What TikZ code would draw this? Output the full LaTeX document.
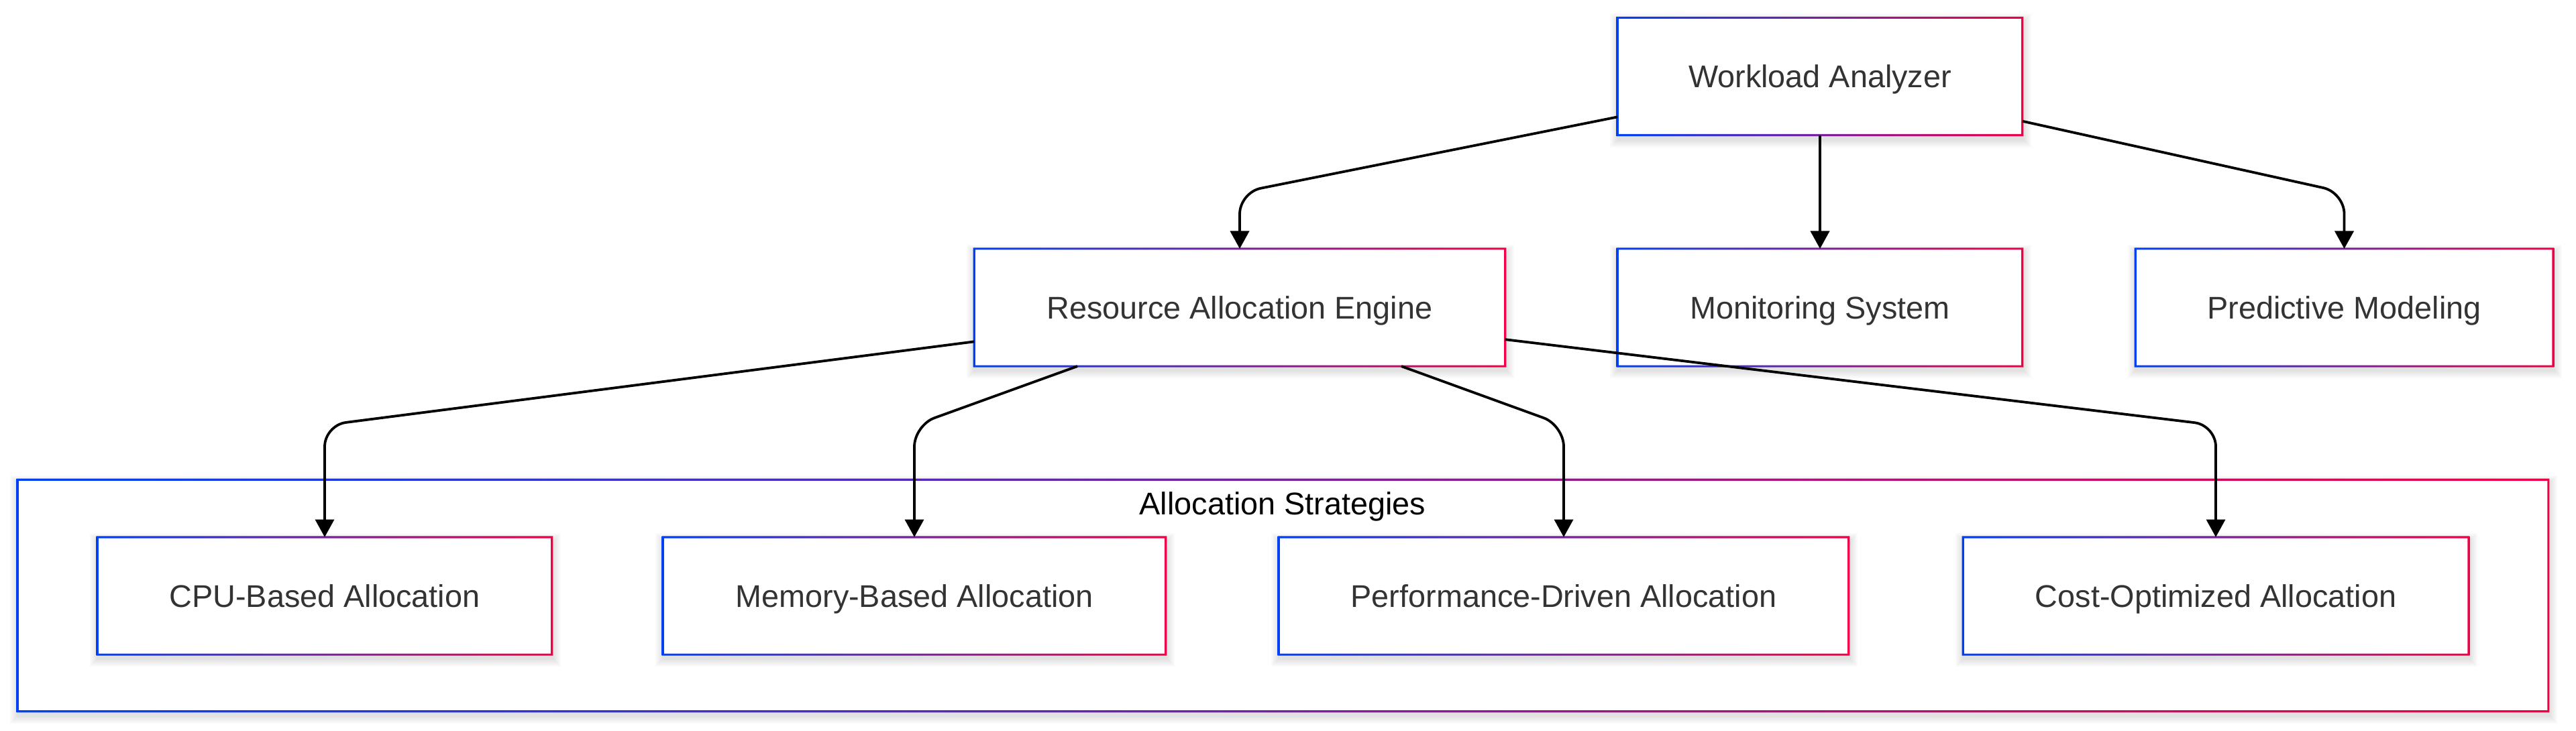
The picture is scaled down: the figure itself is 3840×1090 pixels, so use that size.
\documentclass[tikz,border=0pt]{standalone}
\usepackage{fontspec}
\setmainfont{Liberation Sans}
\usetikzlibrary{arrows.meta}
\definecolor{gblue}{RGB}{0,64,245}
\definecolor{gred}{RGB}{240,0,70}
\definecolor{txt}{RGB}{51,51,51}
\pgfdeclarelayer{cshadow}\pgfdeclarelayer{cfill}\pgfdeclarelayer{nshadow}
\pgfsetlayers{cshadow,cfill,nshadow,main}
\newcommand\gborder[1]{%
  \shade[left color=gblue,right color=gred,even odd rule]
    ([shift={(-0.4pt,-0.4pt)}]#1.south west) rectangle ([shift={(0.4pt,0.4pt)}]#1.north east)
    ([shift={(0.4pt,0.4pt)}]#1.south west) rectangle ([shift={(-0.4pt,-0.4pt)}]#1.north east);}
\newcommand\gshadow[2]{%
  \begin{pgfonlayer}{#2}
  \foreach \k in {1,...,6}{%
    \fill[black,opacity=0.02]
      ([shift={(-\k*0.5pt+0.3pt,-\k*0.5pt-1.5pt)}]#1.south west) rectangle
      ([shift={(\k*0.5pt+0.3pt,\k*0.5pt-1.5pt)}]#1.north east);}
  \end{pgfonlayer}}
\tikzset{
  box/.style={fill=white,inner sep=0pt,minimum height=43.4pt,text=txt,
    text height=8.4pt,text depth=0pt,
    font=\fontsize{11.7pt}{14pt}\selectfont},
  conn/.style={draw=black,line width=0.95pt,rounded corners=8pt,
    -{Triangle[length=6.6pt,width=7pt]}},
}
\begin{document}
\begin{tikzpicture}[x=0.25pt,y=-0.25pt]
\begin{pgfonlayer}{cshadow}
\fill[white] (0,0) rectangle (3840,1090);
\end{pgfonlayer}
\useasboundingbox (0,0) rectangle (3840,1090);

% container
\node[inner sep=0pt,minimum width=942.75pt,minimum height=86pt] (cont) at (1912.5,888) {};
\begin{pgfonlayer}{cfill}
\fill[white] (cont.south west) rectangle (cont.north east);
\end{pgfonlayer}
\gshadow{cont}{cshadow}
\gborder{cont}
\node[anchor=base,text=black,font=\fontsize{11.7pt}{14pt}\selectfont] (lbl) at (1912,767) {Allocation Strategies};

% nodes
\node[box,minimum width=150.5pt] (wa) at (2713,114) {Workload Analyzer};
\node[box,minimum width=197.5pt] (rae) at (1848,458.5) {Resource Allocation Engine};
\node[box,minimum width=150.5pt] (ms) at (2713,458.5) {Monitoring System};
\node[box,minimum width=155.25pt] (pm) at (3494.5,458.5) {Predictive Modeling};
\node[box,minimum width=169pt] (cpu) at (484,888.5) {CPU-Based Allocation};
\node[box,minimum width=187pt] (mem) at (1363,888.5) {Memory-Based Allocation};
\node[box,minimum width=212pt] (perf) at (2331,888.5) {Performance-Driven Allocation};
\node[box,minimum width=188pt] (cost) at (3303,888.5) {Cost-Optimized Allocation};

\foreach \n in {wa,rae,ms,pm,cpu,mem,perf,cost}{\gshadow{\n}{nshadow}\gborder{\n}}

% connectors
\coordinate (b1) at (1848,287);
\coordinate (b2) at (3494.5,287);
\coordinate (c1) at (484,634);
\coordinate (c2) at (1363,634);
\coordinate (c3) at (2331,634);
\coordinate (c4) at (3303,634);
\draw[conn] (wa) -- (b1) -- (rae.north);
\draw[conn] (wa) -- (ms);
\draw[conn] (wa) -- (b2) -- (pm.north);
\draw[conn] (rae) -- (c1) -- (cpu.north);
\draw[conn] (rae) -- (c2) -- (mem.north);
\draw[conn] (rae) -- (c3) -- (perf.north);
\draw[conn] (rae) -- (c4) -- (cost.north);
\end{tikzpicture}
\end{document}
